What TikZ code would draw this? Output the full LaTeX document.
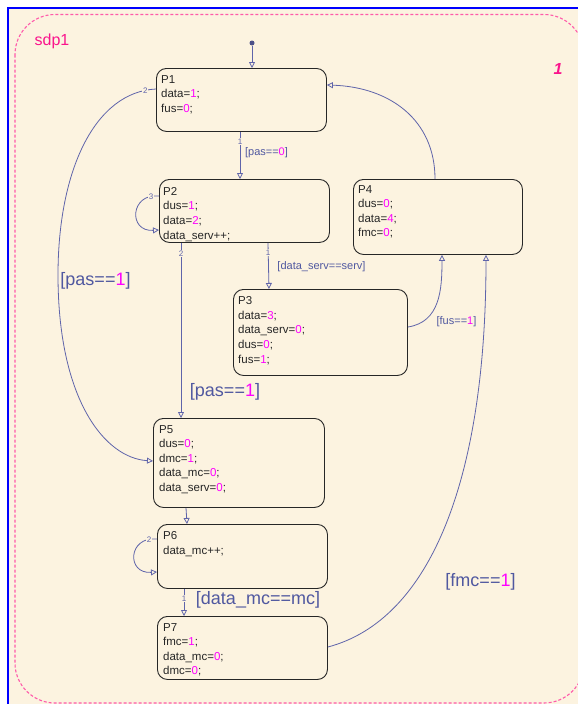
\documentclass[tikz,border=0pt]{standalone}
\usepackage{fontspec}
\setmainfont{Liberation Sans}
\usetikzlibrary{arrows.meta,calc}
\definecolor{bgc}{RGB}{252,243,224}
\definecolor{linec}{RGB}{95,100,170}
\definecolor{lblc}{RGB}{80,88,160}
\definecolor{magc}{RGB}{255,0,255}
\definecolor{pinkc}{RGB}{250,20,140}
\definecolor{dashc}{RGB}{255,90,170}
\newcommand\mg[1]{\textcolor{magc}{#1}}
\begin{document}
\begin{tikzpicture}[x=1pt,y=-1pt,
  state/.style={draw=black!85, line width=0.9pt, rounded corners=10pt, anchor=north west, inner sep=0pt, rectangle},
  stxt/.style={anchor=north west, inner sep=0pt, align=left, font=\fontsize{11.5}{14.6}\selectfont, text=black!85},
  tr/.style={draw=linec, line width=0.8pt, -{Triangle[open,length=6pt,width=6pt]}},
  num/.style={font=\fontsize{8}{9}\selectfont, text=linec, fill=bgc, inner sep=0.6pt},
  glab/.style={font=\fontsize{11}{13}\selectfont, text=lblc, inner sep=0pt},
  blab/.style={font=\fontsize{18}{20}\selectfont, text=lblc, inner sep=0pt},
]
\useasboundingbox (0,0) rectangle (578,704);
\fill[white] (0,0) rectangle (578,704);
\fill[bgc] (8,8) rectangle (578,704);
\draw[blue, line width=2.3pt] (7.8,704) -- (7.8,7.8) -- (578,7.8);
\draw[dashc, line width=1.1pt, dash pattern=on 3pt off 2pt, rounded corners=40pt] (15,14.5) rectangle (584,703);
\node[font=\fontsize{16}{18}\selectfont, text=pinkc, inner sep=0pt] (title) at (52,41) {sdp1};
\node[font=\fontsize{16}{18}\selectfont\bfseries\itshape, text=pinkc, inner sep=0pt] (prio) at (558,69) {1};

% states
\node[state, minimum width=170pt, minimum height=63pt] (P1) at (156,68) {};
\node[state, minimum width=170pt, minimum height=63pt] (P2) at (159,179) {};
\node[state, minimum width=174pt, minimum height=86pt] (P3) at (233,289) {};
\node[state, minimum width=169pt, minimum height=75pt] (P4) at (353,179) {};
\node[state, minimum width=171pt, minimum height=89pt] (P5) at (153,418) {};
\node[state, minimum width=170pt, minimum height=64pt] (P6) at (157,524) {};
\node[state, minimum width=170pt, minimum height=63pt] (P7) at (157,616) {};

\node[stxt] (P1t) at (161,75) {P1\\data=\mg{1};\\fus=\mg{0};};
\node[stxt] (P2t) at (163,187) {P2\\dus=\mg{1};\\data=\mg{2};\\data\_serv++;};
\node[stxt] (P3t) at (238,296.5) {P3\\data=\mg{3};\\data\_serv=\mg{0};\\dus=\mg{0};\\fus=\mg{1};};
\node[stxt] (P4t) at (358,185) {P4\\dus=\mg{0};\\data=\mg{4};\\fmc=\mg{0};};
\node[stxt] (P5t) at (159,425) {P5\\dus=\mg{0};\\dmc=\mg{1};\\data\_mc=\mg{0};\\data\_serv=\mg{0};};
\node[stxt] (P6t) at (163,531.5) {P6\\data\_mc++;};
\node[stxt] (P7t) at (163,623) {P7\\fmc=\mg{1};\\data\_mc=\mg{0};\\dmc=\mg{0};};

% default transition
\node[circle, fill=linec!80!black, inner sep=0pt, minimum size=5pt] (dot) at (252,43) {};
\draw[tr] (dot) -- (dot |- P1.north);

% P1 -> P2
\draw[tr] ([xshift=84pt]P1.south west) -- node[num, pos=0.2] {1} ([xshift=81pt]P2.north west);
\node[glab] (l12) at (266.5,153) {[pas==\mg{0}]};

% P2 self loop
\draw[tr] ([yshift=-17pt]P2.north west) .. controls (130,193) and (128,232) .. node[num, pos=0.1] {3} ([yshift=-51pt]P2.north west);

% P2 -> P3
\draw[tr] ([xshift=109pt]P2.south west) -- node[num, pos=0.21] {1} ([xshift=36pt]P3.north west);
\node[glab] (l23) at (321.5,267) {[data\_serv==serv]};

% P2 -> P5
\draw[tr] ([xshift=22pt]P2.south west) -- node[num, pos=0.06] {2} ([xshift=28pt]P5.north west);
\node[blab] (l25) at (225,392) {[pas==\mg{1}]};

% P3 -> P4
\draw[tr] ([yshift=-38pt]P3.north east) .. controls (440,322) and (442,290) .. ([xshift=89pt]P4.south west);
\node[glab] (l34) at (456.5,321.5) {[fus==\mg{1}]};

% P7 -> P4
\draw[tr] ([yshift=-31pt]P7.north east) .. controls (430,620) and (486,480) .. ([xshift=133pt]P4.south west);
\node[blab] (l74) at (480.5,582) {[fmc==\mg{1}]};

% P4 -> P1
\draw[tr] ([xshift=82pt]P4.north west) .. controls (435,120) and (390,87) .. ([yshift=-17pt]P1.north east);

% P1 -> P5
\draw[tr] ([yshift=-21pt]P1.north west) .. controls (95,92) and (58,170) .. node[num, pos=0.06] {2} (58,275)
   .. controls (58,400) and (105,458) .. ([yshift=-43pt]P5.north west);
\node[blab] (l15) at (95.5,281) {[pas==\mg{1}]};

% P5 -> P6
\draw[tr] ([xshift=33pt]P5.south west) -- ([xshift=30pt]P6.north west);

% P6 self loop
\draw[tr] ([yshift=-15pt]P6.north west) .. controls (128,536) and (126,574) .. node[num, pos=0.1] {2} ([yshift=-48pt]P6.north west);

% P6 -> P7
\draw[tr] ([xshift=27pt]P6.south west) -- node[num, pos=0.36] {1} ([xshift=27pt]P7.north west);
\node[blab] (l67) at (258,600) {[data\_mc==mc]};
\end{tikzpicture}
\end{document}
